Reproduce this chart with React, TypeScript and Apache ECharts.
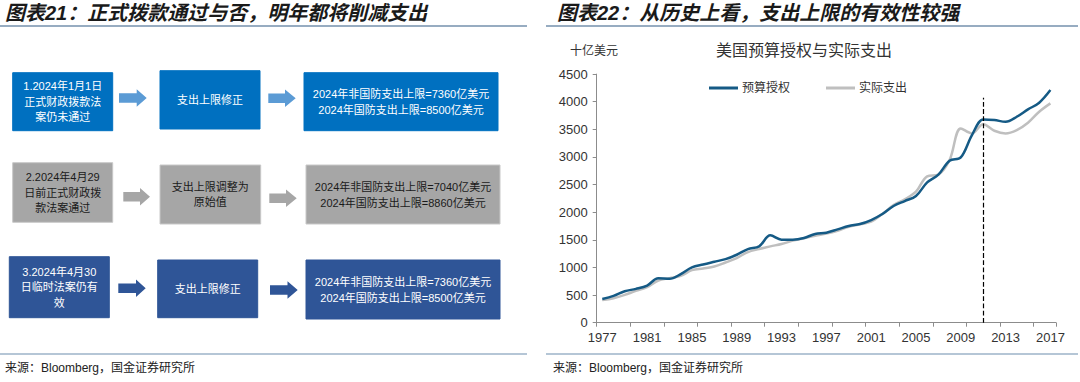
import React, { useEffect, useRef } from "react";
import * as echarts from "echarts";

const years = [
  "1977", "1978", "1979", "1980", "1981", "1982", "1983", "1984", "1985", "1986",
  "1987", "1988", "1989", "1990", "1991", "1992", "1993", "1994", "1995", "1996",
  "1997", "1998", "1999", "2000", "2001", "2002", "2003", "2004", "2005", "2006",
  "2007", "2008", "2009", "2010", "2011", "2012", "2013", "2014", "2015", "2016",
  "2017",
];

// 预算授权 (budget authority), 十亿美元
const budgetAuthority = [
  430, 485, 570, 612, 673, 806, 794, 879, 1000, 1054,
  1103, 1151, 1230, 1333, 1382, 1582, 1503, 1503, 1533, 1606,
  1630, 1689, 1750, 1786, 1858, 1967, 2112, 2202, 2293, 2540,
  2680, 2932, 2992, 3397, 3680, 3668, 3638, 3728, 3861, 3982,
  4211,
];

// 实际支出 (actual outlays), 十亿美元
const actualOutlays = [
  410, 442, 503, 576, 642, 764, 806, 848, 951, 982,
  1018, 1090, 1170, 1279, 1333, 1382, 1424, 1485, 1527, 1575,
  1612, 1665, 1738, 1780, 1828, 1967, 2130, 2232, 2371, 2650,
  2680, 2944, 3517, 3427, 3590, 3475, 3427, 3487, 3620, 3819,
  3970,
];

const capYear = "2011";
const capLineTop = 4070;

const seriesNames = ["预算授权", "实际支出"];
const chartTitle = "美国预算授权与实际支出";
const unitLabel = "十亿美元";
const leftHeader = "图表21：正式拨款通过与否，明年都将削减支出";
const rightHeader = "图表22：从历史上看，支出上限的有效性较强";
const sourceText = "来源：Bloomberg，国金证券研究所";

const flowTexts = [
  ["1.2024年1月1日\n正式财政拨款法\n案仍未通过", "支出上限修正", "2024年非国防支出上限=7360亿美元\n2024年国防支出上限=8500亿美元"],
  ["2.2024年4月29\n日前正式财政拨\n款法案通过", "支出上限调整为\n原始值", "2024年非国防支出上限=7040亿美元\n2024年国防支出上限=8860亿美元"],
  ["3.2024年4月30\n日临时法案仍有\n效", "支出上限修正", "2024年非国防支出上限=7360亿美元\n2024年国防支出上限=8500亿美元"],
];

const FONT = "'Liberation Sans', 'Noto Sans CJK SC', sans-serif";

const rowStyles = [
  { fill: "#0070C0", arrow: "#5B9BD5", text: "#ffffff", stroke: "#0070C0" },
  { fill: "#A6A6A6", arrow: "#A6A6A6", text: "#1a1a1a", stroke: "#c8c8c8" },
  { fill: "#2F5597", arrow: "#2F5597", text: "#ffffff", stroke: "#2F5597" },
];

const boxGeom = [
  [
    [12.7, 72.7, 100, 58],
    [160, 70.7, 100, 58.3],
    [304, 72.7, 194, 58],
  ],
  [
    [12.7, 162.7, 100, 59.6],
    [160, 165, 100.7, 59],
    [306, 165, 194, 59],
  ],
  [
    [9.3, 256.7, 100, 61],
    [157.7, 260, 100, 57.7],
    [306, 260, 194, 59],
  ],
];

const arrowGeom = [
  [
    [119, 136.7, 146.7, 98],
    [268.3, 285, 295.7, 98.3],
  ],
  [
    [123.3, 140, 150, 196.7],
    [269.3, 286, 296.7, 198.3],
  ],
  [
    [118.3, 136, 145.7, 288.3],
    [270, 287.5, 297.7, 290],
  ],
];

function buildFlowGraphics() {
  const els: any[] = [];
  boxGeom.forEach((row, r) => {
    const st = rowStyles[r];
    row.forEach((b, c) => {
      const [x, y, w, h] = b;
      els.push({
        type: "rect",
        shape: { x, y, width: w, height: h },
        style: { fill: st.fill, stroke: st.stroke, lineWidth: 1 },
        silent: true,
      });
      els.push({
        type: "text",
        x: x + w / 2,
        y: y + h / 2,
        style: {
          text: flowTexts[r][c],
          fill: st.text,
          fontSize: 11,
          fontFamily: FONT,
          lineHeight: c === 2 ? 16 : 15.5,
          align: "center",
          verticalAlign: "middle",
          textAlign: "center",
          textVerticalAlign: "middle",
        },
        silent: true,
      });
    });
    arrowGeom[r].forEach((a) => {
      const [x0, xh, xt, cy] = a;
      const bh = 4.7;
      const hh = 8.7;
      els.push({
        type: "polygon",
        shape: {
          points: [
            [x0, cy - bh],
            [xh, cy - bh],
            [xh, cy - hh],
            [xt, cy],
            [xh, cy + hh],
            [xh, cy + bh],
            [x0, cy + bh],
          ],
        },
        style: { fill: st.arrow },
        silent: true,
      });
    });
  });
  return els;
}

function buildFrameGraphics() {
  const headerStyle = {
    fill: "#1a1a1a",
    fontSize: 20,
    fontFamily: FONT,
    fontStyle: "italic",
    fontWeight: "bold",
    align: "left",
    verticalAlign: "middle",
    textAlign: "left",
    textVerticalAlign: "middle",
  };
  const smallLeft = {
    fill: "#222",
    fontFamily: FONT,
    align: "left",
    verticalAlign: "middle",
    textAlign: "left",
    textVerticalAlign: "middle",
  };
  return [
    { type: "text", x: 5, y: 13, style: { ...headerStyle, text: leftHeader }, silent: true },
    { type: "text", x: 557, y: 13, style: { ...headerStyle, text: rightHeader }, silent: true },
    { type: "line", shape: { x1: 0, y1: 26, x2: 527, y2: 26 }, style: { stroke: "#7590ad", lineWidth: 1.5 }, silent: true },
    { type: "line", shape: { x1: 546, y1: 26, x2: 1078, y2: 26 }, style: { stroke: "#7590ad", lineWidth: 1.5 }, silent: true },
    { type: "line", shape: { x1: 0, y1: 354, x2: 527, y2: 354 }, style: { stroke: "#9db3c8", lineWidth: 1.5 }, silent: true },
    { type: "line", shape: { x1: 546, y1: 354, x2: 1078, y2: 354 }, style: { stroke: "#9db3c8", lineWidth: 1.5 }, silent: true },
    { type: "text", x: 5, y: 368, style: { ...smallLeft, text: sourceText, fontSize: 12 }, silent: true },
    { type: "text", x: 553, y: 368, style: { ...smallLeft, text: sourceText, fontSize: 12 }, silent: true },
    {
      type: "text", x: 804, y: 50,
      style: { text: chartTitle, fill: "#333", fontSize: 16, fontFamily: FONT, align: "center", verticalAlign: "middle", textAlign: "center", textVerticalAlign: "middle" },
      silent: true,
    },
    { type: "text", x: 570, y: 51, style: { ...smallLeft, text: unitLabel, fill: "#333", fontSize: 12 }, silent: true },
  ];
}

export default function App() {
  const ref = useRef<HTMLDivElement>(null);

  useEffect(() => {
    if (!ref.current) return;
    const chart = echarts.init(ref.current, undefined, { renderer: "svg" });
    const axisLabelStyle = { color: "#333", fontSize: 13, fontFamily: "'Liberation Sans', Arial, sans-serif" };
    chart.setOption({
      animation: false,
      backgroundColor: "#ffffff",
      grid: { left: 596.7, right: 24, top: 74.1, bottom: 59.3, containLabel: false },
      legend: {
        left: 704,
        top: 77,
        itemWidth: 29,
        itemHeight: 3,
        itemGap: 36,
        icon: "rect",
        textStyle: { color: "#333", fontSize: 12, fontFamily: FONT, padding: [0, 0, 0, -1] },
        data: seriesNames,
      },
      xAxis: {
        type: "category",
        data: years,
        boundaryGap: true,
        axisLine: { lineStyle: { color: "#8c8c8c", width: 1 } },
        axisTick: { show: true, interval: 2, length: 4, lineStyle: { color: "#8c8c8c" } },
        axisLabel: { ...axisLabelStyle, interval: 3, margin: 8 },
        splitLine: { show: false },
      },
      yAxis: {
        type: "value",
        min: 0,
        max: 4500,
        interval: 500,
        axisLine: { show: true, lineStyle: { color: "#8c8c8c", width: 1 } },
        axisTick: { show: true, length: 4, lineStyle: { color: "#8c8c8c" } },
        axisLabel: { ...axisLabelStyle, margin: 9, formatter: (v: number) => String(v) },
        splitLine: { show: false },
      },
      series: [
        {
          name: seriesNames[1],
          type: "line",
          data: actualOutlays,
          smooth: 0.35,
          showSymbol: false,
          symbol: "none",
          z: 2,
          lineStyle: { color: "#BFBFBF", width: 2.5 },
          itemStyle: { color: "#BFBFBF" },
        },
        {
          name: seriesNames[0],
          type: "line",
          data: budgetAuthority,
          smooth: 0.35,
          showSymbol: false,
          symbol: "none",
          z: 3,
          lineStyle: { color: "#155a85", width: 2.5 },
          itemStyle: { color: "#155a85" },
          markLine: {
            silent: true,
            symbol: "none",
            label: { show: false },
            lineStyle: { color: "#000", type: "dashed", width: 1.2 },
            data: [[{ coord: [capYear, 0] }, { coord: [capYear, capLineTop] }]],
          },
        },
      ],
      graphic: [...buildFrameGraphics(), ...buildFlowGraphics()],
    });
    return () => chart.dispose();
  }, []);

  return (
    <div
      ref={ref}
      style={{ position: "absolute", left: 0, top: 0, width: 1080, height: 382, background: "#fff" }}
    />
  );
}
